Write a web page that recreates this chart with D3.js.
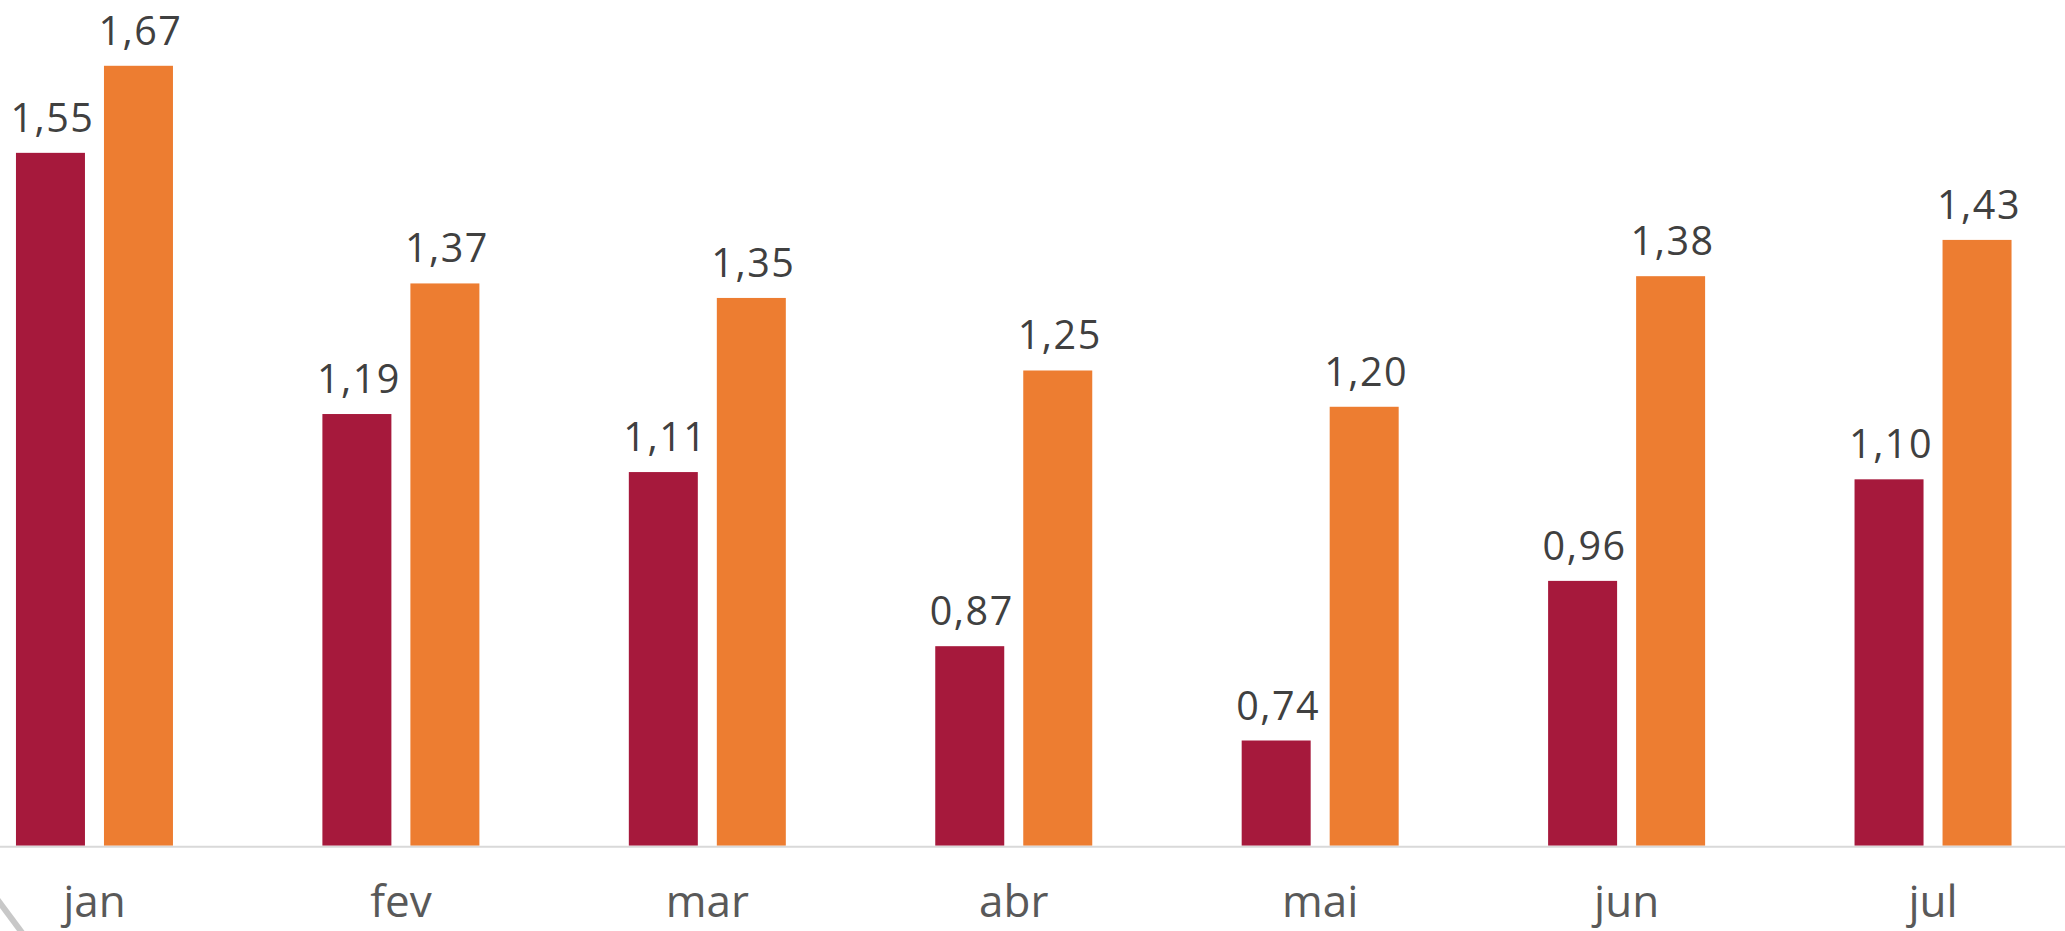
<!DOCTYPE html>
<html>
<head>
<meta charset="utf-8">
<script src="https://cdn.jsdelivr.net/npm/d3@7"></script>
<style>
  html, body { margin: 0; padding: 0; background: #ffffff; overflow: hidden; }
  svg { display: block; }
</style>
</head>
<body>
<svg id="chart" width="2065" height="931"></svg>
<script>
const categories = ["jan", "fev", "mar", "abr", "mai", "jun", "jul"];
const seriesNames = ["s1", "s2"];
const series1 = [1.55, 1.19, 1.11, 0.87, 0.74, 0.96, 1.10];
const series2 = [1.67, 1.37, 1.35, 1.25, 1.20, 1.38, 1.43];
const seriesColors = ["#a6193c", "#ed7d31"];

const svg = d3.select("#chart");
const baseY = 845.7;

const x0 = d3.scaleBand().domain(categories).range([-58.75, 2086.25]).paddingInner(0).paddingOuter(0);
const x1 = d3.scaleBand().domain(seriesNames).range([0, 157]).paddingInner(0.216).paddingOuter(0);
const y = d3.scaleLinear().domain([0.595, 1.8]).range([baseY, baseY - 1.205 * 725.5]);

const fmt = v => d3.format(".2f")(v).replace(".", ",");

const data = categories.map((c, i) => ({ cat: c, vals: [series1[i], series2[i]] }));

// decorative gray stroke at lower-left
svg.append("line")
  .attr("x1", -6).attr("y1", 895).attr("x2", 26).attr("y2", 938)
  .attr("stroke", "#c8c8c8").attr("stroke-width", 6);

const groups = svg.selectAll("g.grp").data(data).enter().append("g")
  .attr("class", "grp")
  .attr("transform", d => `translate(${x0(d.cat) + x0.bandwidth() / 2 - 78.5},0)`);

groups.selectAll("rect").data(d => d.vals.map((v, j) => ({ v, s: seriesNames[j], j })))
  .enter().append("rect")
  .attr("x", d => x1(d.s))
  .attr("width", x1.bandwidth())
  .attr("y", d => y(d.v))
  .attr("height", d => baseY - y(d.v))
  .attr("fill", d => seriesColors[d.j]);

groups.selectAll("text.lbl").data(d => d.vals.map((v, j) => ({ v, s: seriesNames[j], j })))
  .enter().append("text")
  .attr("class", "lbl")
  .attr("x", d => x1(d.s) + x1.bandwidth() / 2 + 2)
  .attr("y", d => y(d.v) - 21)
  .attr("text-anchor", "middle")
  .attr("font-family", "'Open Sans', sans-serif")
  .attr("font-size", 39.5)
  .attr("fill", "#404040")
  .attr("letter-spacing", 1.5)
  .text(d => fmt(d.v));

// axis line
svg.append("line")
  .attr("x1", 0).attr("x2", 2065)
  .attr("y1", baseY + 1).attr("y2", baseY + 1)
  .attr("stroke", "#d9d9d9").attr("stroke-width", 2);

// category axis
const xAxis = d3.axisBottom(x0).tickSize(0).tickPadding(0);
const ax = svg.append("g").attr("transform", `translate(0,${baseY})`).call(xAxis);
ax.select(".domain").remove();
ax.selectAll("text")
  .attr("y", 71)
  .attr("dy", 0)
  .attr("font-family", "'Open Sans', sans-serif")
  .attr("font-size", 44)
  .attr("fill", "#595959");
</script>
</body>
</html>
